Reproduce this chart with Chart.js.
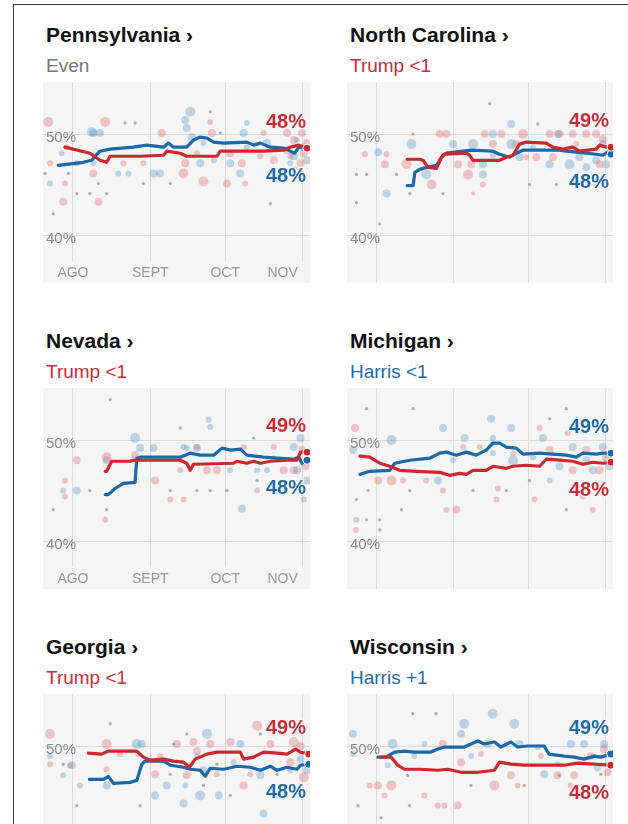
<!DOCTYPE html>
<html>
<head>
  <meta charset="utf-8">
  <title>Battleground polling averages</title>
  <script src="https://cdn.jsdelivr.net/npm/chart.js"></script>
  <style>
    body { margin: 0; width: 628px; height: 824px; overflow: hidden; background: #fff; position: relative;
           font-family: "Liberation Sans", Arial, sans-serif; }
    .frame { position: absolute; left: 13px; top: 4px; width: 640px; height: 840px;
             border-left: 1.5px solid #3a3a3a; border-top: 1.5px solid #3a3a3a; }
    .title { position: absolute; font-weight: bold; font-size: 21px; line-height: 24px; color: #121212; white-space: nowrap; }
    .sub { position: absolute; font-size: 19px; line-height: 22px; white-space: nowrap; }
    .plot { position: absolute; height: 201px; background: #f5f5f5; }
  </style>
</head>
<body>
  <div class="frame"></div>
  <div id="panels"></div>
  <script>
    // days counted from Aug 1
    const monthDays = [0, 31, 61, 92];
    const monthLabelDays = [0, 31, 61, 84];
    const monthLabels = ["AGO", "SEPT", "OCT", "NOV"];
    const pctTicks = [40, 50];

    const states = ["Pennsylvania", "North Carolina", "Nevada", "Michigan", "Georgia", "Wisconsin"];
    const leaders = ["Even", "Trump <1", "Trump <1", "Harris <1", "Trump <1", "Harris +1"];
    const leaderParty = ["none", "rep", "rep", "dem", "rep", "dem"];
    const repFinal = ["48%", "49%", "49%", "48%", "49%", "48%"];
    const demFinal = ["48%", "48%", "48%", "49%", "48%", "49%"];

    // Pennsylvania
    const paRep = [[-3.2,48.7],[6.8,48.1],[10.8,47.4],[13.5,47.2],[14.9,47.8],[26.9,47.8],[36.3,47.9],[37.6,48.3],[43,48.1],[45.6,47.8],[57.7,47.8],[59,48.3],[76.4,48.3],[84.5,48.4],[87.1,48.7],[90.5,48.9],[93.8,48.6]];
    const paDem = [[-5.9,46.9],[4.1,47.2],[7.5,47.4],[10.8,48.3],[14.9,48.5],[24.2,48.7],[29.6,48.9],[36.3,48.7],[38.3,49.1],[40.3,48.7],[45.6,48.7],[48.3,49.4],[51,49.7],[53.7,49.6],[56.4,49.2],[60.4,49.1],[69.7,49.2],[72.4,48.9],[75.1,49.1],[79.1,48.7],[84.5,48.6],[88.9,48.1],[90.5,48.7],[93.8,48.6]];
    const paRepPolls = [[-9.9,51.2,5],[12.9,51.2,5],[-3.9,43.3,4],[10.2,43.3,4],[8.2,46.1,4],[-2.5,48.7,3],[-9.2,47.1,3],[-3.2,45.1,3],[35.6,50.1,4],[44.3,46.1,5],[45,47.1,4],[52.3,45.3,5],[55,51.2,3],[55.7,50.1,4],[61.7,45.1,4],[67.7,47.1,4],[69,45.1,3],[76.4,50.1,3],[80.5,47.4,4],[85.8,50.1,4],[88.5,49.4,4],[91.8,50.1,4],[92.5,48.1,4],[91.2,47.1,4],[87.1,47.8,3],[93.8,49.1,4],[88.5,46.4,4],[28.2,47.1,3],[20.2,47.1,3],[49.7,48.1,3],[63,48.1,4],[75.1,47.8,3],[83.1,46.1,3]];
    const paDemPolls = [[7.5,50.2,5],[10.8,50.1,4],[-4.6,48.1,3],[-9.2,45.1,3],[1.5,47.1,3],[8.2,47.1,3],[18.2,46.1,3],[22.2,46.1,3],[32.3,46.1,4],[34.9,46.1,4],[47,52.2,5],[45.6,50.6,4],[47.7,49.7,4],[45,51.4,4],[51,47.1,4],[56.4,47.4,3],[63,47.1,4],[67,46.1,4],[68.4,50.1,4],[69.7,51.1,3],[77.8,49.1,4],[85.8,48.4,4],[88.5,47.8,4],[92.5,48.7,4],[89.8,49.4,3],[87.1,47.1,3],[93.8,47.4,4],[69.7,48.7,3],[52.3,49.1,3],[8.2,50.1,4]];
    const paOtherPolls = [[20.9,51.1],[24.9,51.1],[55,52.2],[-7.9,42.1],[1.5,44.1],[6.8,44.1],[13.5,44.1],[79.1,43.1],[39,45.1],[28.2,45.1],[10.2,45.1],[-11.2,46.1],[-1.9,46.1],[59,50.1]];

    // North Carolina
    const ncRep = [[12.2,47.5],[17.3,47.5],[18.6,47.4],[20.6,46.7],[24,46.6],[26,47.7],[27.3,48],[36,48.1],[37.3,47.9],[38.7,47.4],[49.4,47.4],[52.1,47.7],[54.8,47.9],[57.4,49],[60.1,49.2],[68.1,49.1],[70.8,48.7],[74.8,48.5],[78.8,48.7],[81.5,48.3],[88.2,48.5],[89.6,48.9],[92.2,48.7],[94.2,48.7]];
    const ncDem = [[12.2,44.9],[14.6,44.9],[15.3,46.2],[17.3,46.5],[19.9,46.7],[24,46.9],[26.6,47.9],[28,48.1],[38,48.4],[46.7,48.3],[49.4,48],[53.4,47.7],[56.1,48.1],[58.8,48.4],[73.5,48.4],[76.2,48.3],[80.2,48.2],[84.2,48.1],[88.2,48],[90.9,47.9],[92.9,48.2],[94.2,48]];
    const ncRepPolls = [[-4.8,48,3],[3.2,47,4],[11.9,47,5],[22,45,5],[25.3,50,4],[28,50,4],[32.7,47,4],[36.7,46,5],[38,47,4],[43.4,50,4],[46.7,49,4],[50.1,50,4],[56.1,49,4],[58.8,50,5],[64.1,47.7,4],[69.5,50,4],[73.5,50,4],[78.8,50,4],[84.2,50,4],[88.2,50,4],[90.9,49.5,4],[89.6,47,4],[42.7,45,3],[60.1,47.7,3],[3.9,48,3],[38.7,44.1,2],[70.8,47.7,4],[80.2,49,3]];
    const ncDemPolls = [[0.5,48.2,4],[3.9,44.1,4],[13.9,49,5],[19.9,46,5],[38.7,49,5],[42.7,46,4],[46.7,50,4],[54.1,51,4],[54.1,49,5],[57.4,47.7,4],[69.5,47,4],[72.8,50,4],[77.5,47,5],[81.5,47.7,4],[84.2,46.7,4],[88.2,47.4,4],[90.9,49,4],[92.2,47,4],[62.8,48.7,3],[46.7,47.9,3],[30.7,49,4],[42.7,47,4]];
    const ncOtherPolls = [[45.4,53],[-8.2,43.2],[1.2,41.1],[-4.1,46],[-8.2,46],[7.9,46],[13.3,44.1],[26.6,44.1],[61.4,45],[72.2,45],[64.8,51],[14.6,50]];

    // Nevada
    const nvRep = [[12.9,46.9],[13.5,46.9],[15.5,47.9],[22.9,47.9],[24.2,48],[43,48],[45.6,47.7],[47,47],[48.3,47.6],[64.4,47.7],[65.7,47.9],[69.7,47.7],[72.4,47.9],[75.1,47.7],[79.1,47.9],[85.8,48],[89.8,48],[91.2,48.8],[93.8,48.8]];
    const nvDem = [[12.9,44.6],[14.2,44.6],[16.9,45.2],[20.2,45.7],[24.9,45.8],[25.6,48.2],[26.9,48.3],[43,48.3],[47,48.7],[51,48.5],[56.4,48.5],[59.7,49.2],[63.1,49],[67.1,49.1],[69.7,48.5],[76.4,48.3],[81.8,48.2],[88.5,48.1],[90.5,48.3],[91.8,47.7],[93.8,48]];
    const nvRepPolls = [[1.5,48,4],[-3.2,46,3],[13.5,48.3,5],[12.9,42.1,3],[24.9,48.5,4],[32.9,46,4],[39,44.1,3],[44.3,44.1,3],[49.7,49.3,3],[53.7,47,4],[57.7,47,4],[68.4,49.3,3],[73.8,45,3],[84.5,47,4],[88.5,47,4],[91.8,49,4],[93.2,47.4,4],[43,47,3],[-3.2,44.4,3],[80.5,49.3,3]];
    const nvDemPolls = [[24.9,50.2,5],[26.9,49.2,4],[32.3,49.2,4],[1.5,45,4],[-3.9,45,3],[13.5,48,4],[55,51.3,3],[54.4,52,3],[44.3,49.3,3],[49.7,49.2,4],[67.7,43.2,4],[63,47,3],[73.8,47,3],[77.8,47,3],[91.2,50.2,4],[89.8,47,4],[93.8,46,4],[92.5,44.1,3],[45.6,49.2,3],[88.5,49.3,4]];
    const nvOtherPolls = [[14.9,54],[-7.9,43.1],[13.5,43.1],[6.8,45],[39,45],[49.7,45],[55,45],[61.7,45],[43,51.2],[73.8,46],[80.5,48.3],[72.4,50.2]];

    // Michigan
    const miRep = [[-6.8,48.4],[-2.8,48.3],[1.2,47.7],[5.2,47.4],[9.2,47],[15.9,46.9],[25.3,46.8],[29.3,46.5],[33.3,46.7],[36,46.6],[38.7,47],[44,47],[46.7,47.4],[52.1,47.2],[54.8,47.4],[60.1,47.5],[65.5,47.4],[68.1,48.1],[73.5,48],[78.8,47.9],[82.9,47.6],[86.9,47.8],[90.9,47.7],[94.2,47.8]];
    const miDem = [[-6.8,46.6],[-2.8,46.9],[5.2,47],[7.2,47.7],[13.3,48],[21.3,48.2],[25.3,48.7],[28,48.8],[32,48.5],[36,48.8],[40,48.5],[44,49],[46.7,49.7],[49.4,49.7],[52.1,49.3],[56.1,49.2],[58.8,48.6],[65.5,48.7],[70.8,48.6],[76.2,48.5],[80.2,48.3],[82.9,48.7],[88.2,48.6],[90.9,48.7],[94.2,48.7]];
    const miRepPolls = [[-8.8,51.2,4],[0.5,46,4],[5.9,46,5],[19.9,46,3],[26.6,45,3],[32,43.1,4],[28,43.1,3],[34.7,49.3,3],[48.7,45.2,3],[48.1,44.1,3],[54.8,48.7,3],[63.5,44.1,3],[65.5,51.2,3],[69.5,49,4],[76.8,50.7,3],[82.9,44.4,3],[86.9,43.1,3],[89.6,47,4],[84.2,49,4],[92.2,48.3,4],[78.8,47,4],[-8.4,41.1,3],[41.4,49.3,3],[10.6,46,3]];
    const miDemPolls = [[5.9,50,5],[26.6,51.2,4],[35.3,50.2,4],[46,52.1,4],[46.7,50.2,3],[54.8,48,5],[54.1,51.2,4],[24.6,46,4],[-8.2,42.1,3],[-9.5,49,4],[66.8,50.2,4],[69.5,46,3],[73.5,47.4,4],[78.8,49.3,4],[84.2,48,4],[86.9,47,4],[90.9,49.3,4],[93.6,47.4,4],[62.8,48.3,3],[30.7,48,3],[46.7,48.7,3]];
    const miOtherPolls = [[-4.1,53.1],[14.6,53.1],[76.2,53.1],[69.5,52.1],[-8.2,44.1],[-4.1,42.1],[1.2,42.1],[1.2,41.1],[9.9,43.1],[13.3,45],[38.7,45],[61.4,46],[52.1,45],[76.2,43.1],[-3.5,45]];

    // Georgia
    const gaRep = [[6.2,49.3],[11.5,49.2],[14.2,49.5],[25.6,49.5],[28.2,48.9],[30.9,48.6],[36.3,48.7],[40.3,48.5],[44.3,48.4],[46.7,47.9],[49,48.7],[53.7,49.2],[57.7,49.4],[67.1,49.4],[68.4,48.7],[72.4,48.9],[76.4,49.4],[81.8,49.3],[85.8,49.2],[89.2,49.7],[91.2,49.4],[94.5,49.2]];
    const gaDem = [[6.6,46.7],[12.2,46.7],[14.2,47],[16.2,46.3],[22.9,46.4],[25.6,46.6],[27.6,48.2],[28.9,48.5],[36.3,48.5],[39,48.1],[44.3,47.9],[47,47.7],[51,47.6],[53,47],[55,47.8],[60.4,47.7],[65.7,48],[71.1,47.9],[75.1,47.6],[79.1,48],[81.8,47.6],[85.8,47.9],[89.8,47.7],[91.2,48.1],[94.5,48.2]];
    const gaRepPolls = [[-9.2,51.2,5],[13.5,50.2,5],[-9.2,48.2,3],[-1.2,48.1,3],[18.9,49.2,3],[32.9,47.2,4],[41.6,50.2,4],[48.3,50.4,4],[49.7,49.5,4],[45.6,47.1,4],[55,50.2,4],[63.1,50.4,4],[57.7,47.2,3],[68.4,46.1,4],[73.8,52,5],[79.1,50.2,4],[88.5,50.4,5],[91.2,50,4],[92.5,46.9,5],[87.1,48.4,4],[71.1,47.2,3],[26.2,49.2,3],[2.8,46.1,3],[34.9,49,3],[13.5,47.7,3]];
    const gaDemPolls = [[-9.2,49,3],[-0.5,48.1,4],[-3.9,47.1,3],[13.5,46.1,4],[25.6,50.2,5],[27.6,50.2,4],[32.9,45.1,4],[37.6,46.1,4],[45,46.1,3],[51,45.1,5],[53.7,51.2,5],[58.4,45.1,4],[44.3,44.3,4],[52.3,47.6,4],[64.4,48.4,3],[67.1,50.2,4],[75.1,47.1,4],[76.4,43.3,4],[87.1,47.6,3],[91.2,48.7,4],[93.8,47.6,4],[49.7,49,3]];
    const gaOtherPolls = [[14.9,52.2],[1.5,44.1],[26.9,44.1],[45.6,51.2],[40.3,50.2],[57.7,48.2],[63.1,45.1],[52.3,46.1],[39,47.2],[81.8,47.2],[75.1,51.2],[-3.9,48.2]];

    // Wisconsin
    const wiRep = [[1.7,48.9],[5.8,48.9],[8.4,48.1],[11.1,47.7],[17.8,47.7],[24.5,47.6],[28.5,47.7],[33.9,47.4],[40.6,47.4],[47.3,47.6],[49.3,48.4],[53.9,48.2],[59.3,48.1],[67.3,48.1],[75.4,48.1],[80.7,48.3],[87.4,48.2],[94.1,48.1]];
    const wiDem = [[0.4,48.9],[3.7,48.9],[7.1,49.4],[11.1,49.5],[15.1,49.4],[21.8,49.4],[24.5,49.7],[27.2,49.9],[35.2,49.9],[37.9,50.2],[40.6,50.5],[43.2,50.2],[47.3,50.4],[49.9,49.9],[53.9,50.4],[56.6,49.9],[60.6,50],[67.3,50],[69.3,49.2],[75.4,49],[79.4,48.9],[83.4,48.7],[87.4,49],[90.1,48.9],[94.1,49.2]];
    const wiRepPolls = [[-2.9,46.1,3],[0.4,46.1,4],[5.8,46.1,5],[3.1,45.1,3],[24.5,44.1,3],[27.2,44.1,3],[32.5,44.1,4],[26.5,50.2,4],[33.9,48.4,4],[41.9,49.2,3],[47.3,46.1,5],[53.9,47.1,4],[56.6,46.1,3],[72.7,47.1,4],[78,46.1,3],[79.4,47.1,4],[86.1,49,4],[91.4,49.7,4],[92.8,47.4,4],[19.1,45.1,3],[66,49,3]];
    const wiDemPolls = [[-9.6,51.2,4],[-9.6,49.2,3],[6.4,50.2,5],[15.1,49,3],[19.1,50.2,3],[33.9,51.2,4],[35.2,52.2,5],[46.6,53.2,5],[55.3,52.2,5],[57.3,50.2,4],[44.6,50.2,4],[64.7,49.9,3],[67.3,47.2,4],[78,50.2,4],[83.4,50.2,4],[88.8,47.9,4],[91.4,50.2,4],[37.9,49,3],[4.4,48.1,3],[72.7,48.2,3]];
    const wiOtherPolls = [[-7.6,44.1],[1.7,42.9],[14.5,53.2],[23.8,53.2],[13.1,44.1],[37.9,46.1],[59.3,46.1],[12.4,47.1],[73.4,47.1],[90.1,47.2]];

    const RED = "#cd2830";
    const BLUE = "#1a69a8";
    const RED_TEXT = "#c92d35";
    const BLUE_TEXT = "#1f6aa8";
    const SUB_COLORS = { none: "#767676", rep: RED_TEXT, dem: BLUE_TEXT };
    const FONT = '"Liberation Sans", Arial, sans-serif';

    const panels = [
      { rep: paRep, dem: paDem, repPolls: paRepPolls, demPolls: paDemPolls, other: paOtherPolls },
      { rep: ncRep, dem: ncDem, repPolls: ncRepPolls, demPolls: ncDemPolls, other: ncOtherPolls },
      { rep: nvRep, dem: nvDem, repPolls: nvRepPolls, demPolls: nvDemPolls, other: nvOtherPolls },
      { rep: miRep, dem: miDem, repPolls: miRepPolls, demPolls: miDemPolls, other: miOtherPolls },
      { rep: gaRep, dem: gaDem, repPolls: gaRepPolls, demPolls: gaDemPolls, other: gaOtherPolls },
      { rep: wiRep, dem: wiDem, repPolls: wiRepPolls, demPolls: wiDemPolls, other: wiOtherPolls }
    ];

    Chart.defaults.font.family = FONT;

    // percentage labels next to the end of both average lines
    const endLabels = {
      id: "endLabels",
      afterDatasetsDraw(chart, args, opts) {
        const ctx = chart.ctx;
        const y = chart.scales.y;
        const area = chart.chartArea;
        const last = i => chart.data.datasets[i].data[chart.data.datasets[i].data.length - 1].y;
        const repY = y.getPixelForValue(last(0));
        const demY = y.getPixelForValue(last(1));
        const repOnTop = last(0) >= last(1);
        const topY = Math.min(repY, demY) - 26;
        const bottomY = Math.max(repY, demY) + 28;
        ctx.save();
        ctx.font = "bold 20px " + FONT;
        ctx.textAlign = "right";
        ctx.textBaseline = "middle";
        ctx.lineWidth = 3;
        ctx.strokeStyle = "rgba(245,245,245,0.85)";
        const draw = (text, color, yy) => {
          ctx.strokeText(text, area.right - 4, yy);
          ctx.fillStyle = color;
          ctx.fillText(text, area.right - 4, yy);
        };
        draw(repOnTop ? opts.rep : opts.dem, repOnTop ? RED_TEXT : BLUE_TEXT, topY);
        draw(repOnTop ? opts.dem : opts.rep, repOnTop ? BLUE_TEXT : RED_TEXT, bottomY);
        ctx.restore();
      }
    };

    const lastOnly = (size) => (c) => c.dataIndex === c.dataset.data.length - 1 ? size : 0;

    const holder = document.getElementById("panels");

    panels.forEach((p, i) => {
      const col = i % 2;
      const row = Math.floor(i / 2);
      const left = col === 0 ? 43 : 347;
      const width = col === 0 ? 267 : 266;
      const top = 82 + row * 306;
      const withAxis = col === 0;

      const t = document.createElement("div");
      t.className = "title";
      t.style.left = (left + 3) + "px";
      t.style.top = (top - 59) + "px";
      t.textContent = states[i] + " \u203A";
      holder.appendChild(t);

      const s = document.createElement("div");
      s.className = "sub";
      s.style.left = (left + 3) + "px";
      s.style.top = (top - 27) + "px";
      s.style.color = SUB_COLORS[leaderParty[i]];
      s.textContent = leaders[i];
      holder.appendChild(s);

      const box = document.createElement("div");
      box.className = "plot";
      box.style.left = left + "px";
      box.style.top = top + "px";
      box.style.width = width + "px";
      const canvas = document.createElement("canvas");
      box.appendChild(canvas);
      holder.appendChild(box);

      new Chart(canvas, {
        type: "line",
        data: {
          datasets: [
            {
              type: "line", xAxisID: "x", yAxisID: "y", order: 0,
              data: p.rep.map(([x, y]) => ({ x, y })),
              borderColor: RED, borderWidth: 3.2, tension: 0, fill: false,
              borderJoinStyle: "round", borderCapStyle: "round",
              pointRadius: lastOnly(4), pointBackgroundColor: RED,
              pointBorderColor: "#ffffff", pointBorderWidth: 1
            },
            {
              type: "line", xAxisID: "x", yAxisID: "y", order: 1,
              data: p.dem.map(([x, y]) => ({ x, y })),
              borderColor: BLUE, borderWidth: 3.2, tension: 0, fill: false,
              borderJoinStyle: "round", borderCapStyle: "round",
              pointRadius: lastOnly(4), pointBackgroundColor: BLUE,
              pointBorderColor: "#ffffff", pointBorderWidth: 1
            },
            {
              type: "bubble", xAxisID: "x", yAxisID: "y", order: 2,
              data: p.repPolls.map(([x, y, r]) => ({ x, y, r })),
              backgroundColor: "rgba(222, 96, 106, 0.34)", borderWidth: 0
            },
            {
              type: "bubble", xAxisID: "x", yAxisID: "y", order: 3,
              data: p.demPolls.map(([x, y, r]) => ({ x, y, r })),
              backgroundColor: "rgba(78, 145, 200, 0.34)", borderWidth: 0
            },
            {
              type: "bubble", xAxisID: "x", yAxisID: "y", order: 4,
              data: p.other.map(([x, y]) => ({ x, y, r: 1.6 })),
              backgroundColor: "rgba(95, 95, 110, 0.5)", borderWidth: 0
            }
          ]
        },
        options: {
          responsive: true,
          maintainAspectRatio: false,
          animation: false,
          events: [],
          layout: { padding: 0, autoPadding: false },
          plugins: {
            legend: { display: false },
            tooltip: { enabled: false },
            endLabels: { rep: repFinal[i], dem: demFinal[i] }
          },
          scales: {
            x: {
              type: "linear", min: -12, max: 95, bounds: "data", position: "bottom",
              afterBuildTicks: sc => { sc.ticks = monthDays.map(v => ({ value: v })); },
              afterFit: sc => { sc.height = 0; sc.paddingLeft = 0; sc.paddingRight = 0; },
              grid: { color: "#dcdcdc", lineWidth: 1, drawTicks: false },
              border: { display: false },
              ticks: { display: false }
            },
            xl: {
              type: "linear", display: withAxis, min: -12, max: 95, bounds: "data", position: "bottom",
              afterBuildTicks: sc => { sc.ticks = monthLabelDays.map(v => ({ value: v })); },
              afterFit: sc => { sc.height = withAxis ? 22 : 0; sc.paddingLeft = 0; sc.paddingRight = 0; },
              grid: { display: false, drawTicks: false },
              border: { display: false },
              ticks: {
                color: "#9a9a9a", font: { size: 14 }, padding: 4,
                maxRotation: 0, autoSkip: false,
                callback: (v, idx) => monthLabels[idx]
              }
            },
            y: {
              type: "linear", min: withAxis ? 37.43 : 35.25, max: 55.15, position: "left",
              afterBuildTicks: sc => { sc.ticks = pctTicks.map(v => ({ value: v })); },
              afterFit: sc => { sc.width = 0; sc.paddingTop = 0; sc.paddingBottom = 0; },
              grid: { color: "#dcdcdc", lineWidth: 1, drawTicks: false },
              border: { display: false },
              ticks: {
                mirror: true, padding: 3, labelOffset: 4,
                color: "#8c8c8c", font: { size: 15 },
                callback: v => v + "%"
              }
            }
          }
        },
        plugins: [endLabels]
      });
    });
  </script>
</body>
</html>
